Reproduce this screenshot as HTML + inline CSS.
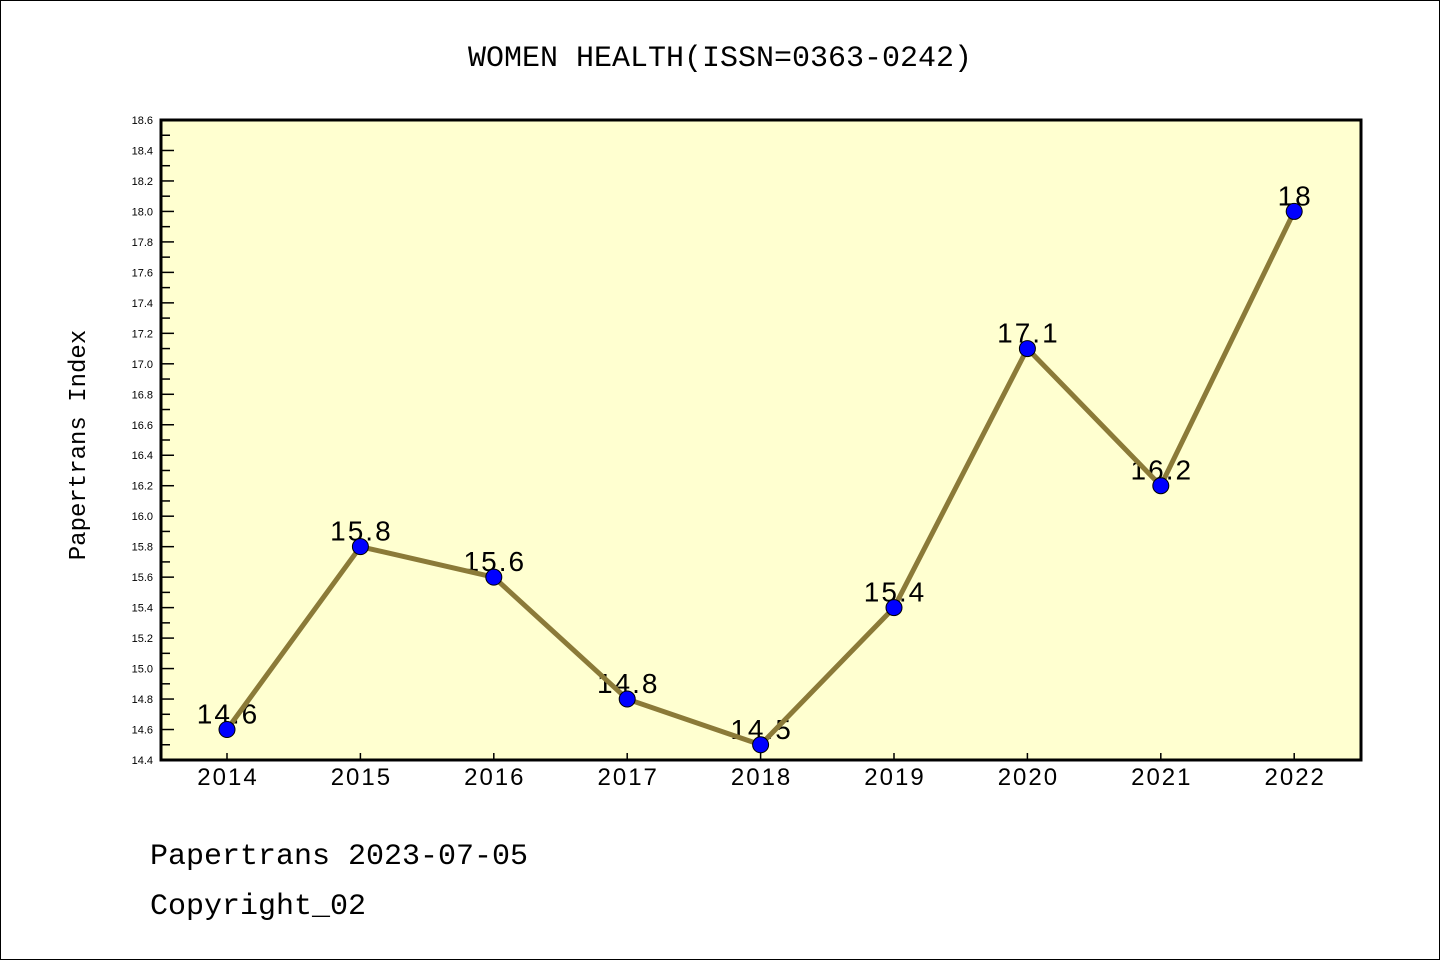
<!DOCTYPE html>
<html><head><meta charset="utf-8"><style>
html,body{margin:0;padding:0;background:#fff}
svg{display:block}
text{font-family:"Liberation Mono","DejaVu Sans Mono",monospace}
</style></head><body>
<svg width="1440" height="960" viewBox="0 0 1440 960">
<rect x="0.5" y="0.5" width="1439" height="959" fill="#fff" stroke="#000"/>
<text x="720" y="66" text-anchor="middle" font-size="30">WOMEN HEALTH(ISSN=0363-0242)</text>
<rect x="161" y="120" width="1200" height="640" fill="#ffffd0"/>
<g id="yaxis"></g><g id="xaxis"></g>
<g id="series"></g>
<rect x="161" y="120" width="1200" height="640" fill="none" stroke="#000" stroke-width="3"/>
<text transform="translate(85,445) rotate(-90)" text-anchor="middle" font-size="24">Papertrans Index</text>
<text x="150" y="864" font-size="30">Papertrans 2023-07-05</text>
<text x="150" y="914" font-size="30">Copyright_02</text>
</svg>
<script>
const years=["2014","2015","2016","2017","2018","2019","2020","2021","2022"];
const values=[14.6,15.8,15.6,14.8,14.5,15.4,17.1,16.2,18];
const labels=["14.6","15.8","15.6","14.8","14.5","15.4","17.1","16.2","18"];
const yTicks=["14.4","14.6","14.8","15.0","15.2","15.4","15.6","15.8","16.0","16.2","16.4","16.6","16.8","17.0","17.2","17.4","17.6","17.8","18.0","18.2","18.4","18.6"];
(function(){
const NS="http://www.w3.org/2000/svg";
const SANS='font-family:"Liberation Sans",sans-serif';
const yMin=14.4,yMax=18.6,plotTop=120,plotBot=760;
function ys(v){return plotBot-(v-yMin)/(yMax-yMin)*(plotBot-plotTop);}
function xs(i){return 227+i*133.4;}
function mk(t,a,p){const e=document.createElementNS(NS,t);for(const k in a)e.setAttribute(k,a[k]);p.appendChild(e);return e;}
const ya=document.getElementById('yaxis');
yTicks.forEach((t,i)=>{const v=parseFloat(t),y=ys(v);
 const l=mk('line',{x1:161,x2:174,y1:y,y2:y,stroke:'#000','stroke-width':1.5},ya);
 
 
 const tx=mk('text',{x:153,y:y+4,'text-anchor':'end','font-size':11,style:SANS},ya);tx.textContent=t;
 
 
 if(i<yTicks.length-1){const ym=ys(v+0.1);
  const m=mk('line',{x1:161,x2:170,y1:ym,y2:ym,stroke:'#000','stroke-width':1.5},ya);
  
  }
});
const xa=document.getElementById('xaxis');
years.forEach((yr,i)=>{const x=xs(i);
 const l=mk('line',{x1:x,x2:x,y1:plotBot,y2:plotBot-7,stroke:'#000','stroke-width':1.5},xa);
 
 
 const t=mk('text',{x:x+1,y:785,'text-anchor':'middle','font-size':24,style:SANS+';letter-spacing:2px'},xa);t.textContent=yr;
 
 
});
const s=document.getElementById('series');
values.forEach((v,i)=>{const t=mk('text',{x:xs(i)+1,y:ys(v)-6,'text-anchor':'middle','font-size':28,style:SANS+';letter-spacing:2px'},s);t.textContent=labels[i];
 
 });
const pl=mk('polyline',{points:values.map((v,i)=>xs(i)+','+ys(v)).join(' '),fill:'none',stroke:'#8b7a38','stroke-width':5,'stroke-linejoin':'round'},s);


values.forEach((v,i)=>{const c=mk('circle',{cx:xs(i),cy:ys(v),r:8,fill:'#0000ff',stroke:'#000','stroke-width':1},s);
 
 });
})();
</script>
</body></html>
